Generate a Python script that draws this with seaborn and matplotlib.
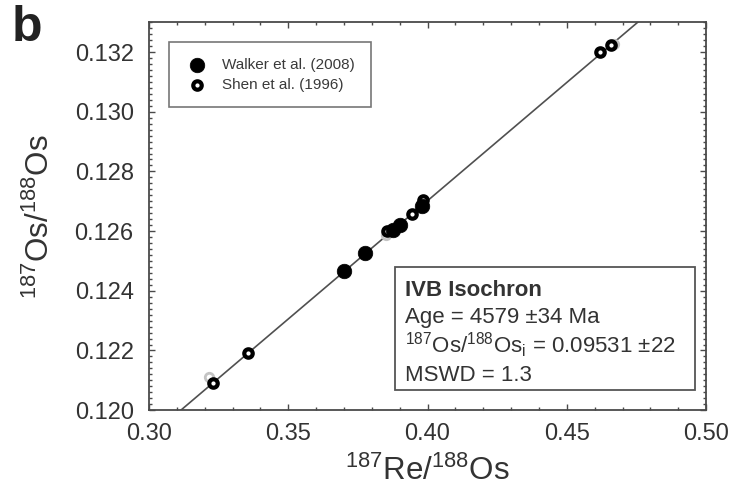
import numpy as np
import pandas as pd
import matplotlib
matplotlib.use("Agg")
import matplotlib.pyplot as plt
from matplotlib.ticker import MultipleLocator, FormatStrFormatter
from matplotlib.patches import Rectangle
import seaborn as sns

# ---- data -------------------------------------------------------------
walker_re = [0.3700, 0.3775, 0.3875, 0.3900, 0.3980]
walker_os = [0.12467, 0.12525, 0.12605, 0.12620, 0.12683]

shen_re = [0.3230, 0.3355, 0.3855, 0.3945, 0.3985, 0.4620, 0.4660]
shen_os = [0.12091, 0.12191, 0.12600, 0.12657, 0.12704, 0.13200, 0.13225]

# faint replicate analyses
replicate_re = [0.3215, 0.3852, 0.4668]
replicate_os = [0.12110, 0.12588, 0.13228]

# isochron parameters
age_ma = 4579
initial_ratio = 0.09531
lambda_re = 1.666e-11  # 187Re decay constant (1/yr)

x_ticks = [0.30, 0.35, 0.40, 0.45, 0.50]
y_ticks = [0.120, 0.122, 0.124, 0.126, 0.128, 0.130, 0.132]

# ---- style ------------------------------------------------------------
sns.set_theme(style="ticks")
plt.rcParams["font.family"] = ["Liberation Sans", "DejaVu Sans"]
plt.rcParams["mathtext.fontset"] = "custom"
plt.rcParams["mathtext.rm"] = "Liberation Sans"
plt.rcParams["mathtext.it"] = "Liberation Sans:italic"
plt.rcParams["mathtext.bf"] = "Liberation Sans:bold"
plt.rcParams["mathtext.default"] = "regular"

text_col = "#333333"
axis_col = "#4a4a4a"

fig = plt.figure(figsize=(7.41, 4.93), dpi=100)
ax = fig.add_axes([0.201, 0.168, 0.752, 0.787])

# isochron line
slope = np.exp(lambda_re * age_ma * 1e6) - 1
line_x = np.array([0.30, 0.50])
line_df = pd.DataFrame({"x": line_x, "y": initial_ratio + slope * line_x})
sns.lineplot(data=line_df, x="x", y="y", ax=ax, color="#505050", lw=1.2,
             zorder=1, legend=False)

walker = pd.DataFrame({"re": walker_re, "os": walker_os})
shen = pd.DataFrame({"re": shen_re, "os": shen_os})
repl = pd.DataFrame({"re": replicate_re, "os": replicate_os})

sns.scatterplot(data=repl, x="re", y="os", ax=ax, s=37, facecolor="white",
                edgecolor="#c4c4c4", linewidth=2.0, zorder=2)
sns.scatterplot(data=shen, x="re", y="os", ax=ax, s=37, facecolor="white",
                edgecolor="black", linewidth=3.0, zorder=3,
                label="Shen et al. (1996)")
sns.scatterplot(data=walker, x="re", y="os", ax=ax, s=110, color="black",
                edgecolor="black", linewidth=0.5, zorder=4,
                label="Walker et al. (2008)")

# ---- axes -------------------------------------------------------------
ax.set_xlim(0.30, 0.50)
ax.set_ylim(0.120, 0.133)
ax.set_xticks(x_ticks)
ax.set_yticks(y_ticks)
ax.xaxis.set_major_formatter(FormatStrFormatter("%.2f"))
ax.yaxis.set_major_formatter(FormatStrFormatter("%.3f"))
ax.xaxis.set_minor_locator(MultipleLocator(0.01))
ax.yaxis.set_minor_locator(MultipleLocator(0.0002))
ax.tick_params(which="both", direction="in", top=True, right=True,
               color=axis_col, width=1.0)
ax.tick_params(which="major", length=4)
ax.tick_params(which="minor", length=2.5)
ax.tick_params(axis="x", which="major", labelsize=17, labelcolor=text_col, pad=9)
ax.tick_params(axis="y", which="major", labelsize=17, labelcolor=text_col, pad=11)
for sp in ax.spines.values():
    sp.set_color(axis_col)
    sp.set_linewidth(1.3)

ax.set_xlabel(r"$^{187}$Re/$^{188}$Os", fontsize=22.5, color=text_col, labelpad=8)
ax.set_ylabel(r"$^{187}$Os/$^{188}$Os", fontsize=22.5, color=text_col, labelpad=13)

# ---- legend -----------------------------------------------------------
handles, labels = ax.get_legend_handles_labels()
order = [labels.index("Walker et al. (2008)"), labels.index("Shen et al. (1996)")]
leg = ax.legend([handles[i] for i in order], [labels[i] for i in order],
                loc="upper left", bbox_to_anchor=(0.036, 0.948),
                borderaxespad=0, fontsize=11, frameon=True, fancybox=False,
                borderpad=1.0, handlelength=1.6, handletextpad=0.9,
                labelspacing=0.4)
leg.get_frame().set_edgecolor("#555555")
leg.get_frame().set_linewidth(1.2)
for t in leg.get_texts():
    t.set_color("#3a3a3a")

# ---- isochron summary box -------------------------------------------
ax.add_patch(Rectangle((0.4417, 0.0515), 0.5383, 0.3171, transform=ax.transAxes,
                       facecolor="white", edgecolor="#555555", lw=1.3, zorder=5))
tx = 0.4596
ax.text(tx, 0.309, "IVB Isochron", transform=ax.transAxes, fontsize=16,
        fontweight="bold", color=text_col, va="center", zorder=6)
ax.text(tx, 0.2397, f"Age = {age_ma} ±34 Ma", transform=ax.transAxes,
        fontsize=16, color=text_col, va="center", zorder=6)
ax.text(tx, 0.1675, r"$^{187}$Os/$^{188}$Os$_{i}$ = " + f"{initial_ratio:.5f} ±22",
        transform=ax.transAxes, fontsize=16, color=text_col, va="center", zorder=6)
ax.text(tx, 0.0902, "MSWD = 1.3", transform=ax.transAxes, fontsize=16,
        color=text_col, va="center", zorder=6)

# panel letter
fig.text(0.016, 0.99, "b", fontsize=36, fontweight="bold", color="#222222",
         va="top", ha="left")

fig.savefig("out.png", dpi=100)
